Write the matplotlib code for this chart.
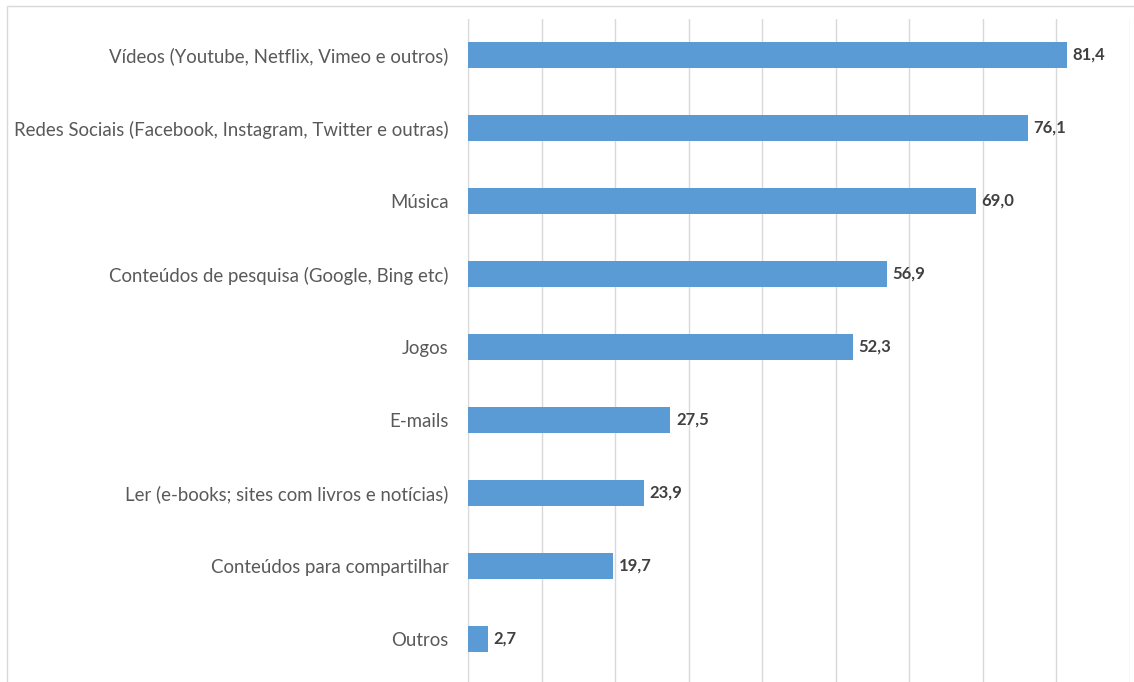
import matplotlib.pyplot as plt
from matplotlib.patches import Rectangle

# Categories and values (percent), top to bottom
categories = [
    'Vídeos (Youtube, Netflix, Vimeo e outros)',
    'Redes Sociais (Facebook, Instagram, Twitter e outras)',
    'Música',
    'Conteúdos de pesquisa (Google, Bing etc)',
    'Jogos',
    'E-mails',
    'Ler (e-books; sites com livros e notícias)',
    'Conteúdos para compartilhar',
    'Outros',
]
values = [81.4, 76.1, 69.0, 56.9, 52.3, 27.5, 23.9, 19.7, 2.7]
labels = ['81,4', '76,1', '69,0', '56,9', '52,3', '27,5', '23,9', '19,7', '2,7']

plt.rcParams['font.family'] = ['Lato', 'DejaVu Sans']

fig = plt.figure(figsize=(11.34, 6.82), dpi=100)
ax = fig.add_axes([468 / 1134, 0, (1130 - 468) / 1134, (682 - 18.5) / 682])

# outer chart border
fig.patches.append(Rectangle((7 / 1134, -0.01), 1.0, 1 - 6 / 682 + 0.01,
                             transform=fig.transFigure, fill=False,
                             edgecolor='#D9D9D9', linewidth=1))

y = list(range(len(categories)))[::-1]
ax.barh(y, values, height=0.36, color='#5B9BD5', zorder=3)

for yi, v, lab in zip(y, values, labels):
    ax.text(v + 0.8, yi, lab, va='center', ha='left', fontsize=12,
            fontweight='bold', color='#404040')

ax.set_xlim(0, 90)
ax.set_ylim(-0.59, len(categories) - 0.5)
ax.set_xticks(range(0, 91, 10))
ax.set_xticklabels([])
ax.tick_params(axis='x', length=0)
ax.set_yticks(y)
ax.set_yticklabels(categories, fontsize=13.4, color='#595959')
ax.tick_params(axis='y', length=0, pad=14)
ax.grid(axis='x', color='#D9D9D9', linewidth=1, zorder=0)
for s in ['top', 'right', 'bottom']:
    ax.spines[s].set_visible(False)
ax.spines['left'].set_color('#D9D9D9')

fig.savefig('out.png', dpi=100)
